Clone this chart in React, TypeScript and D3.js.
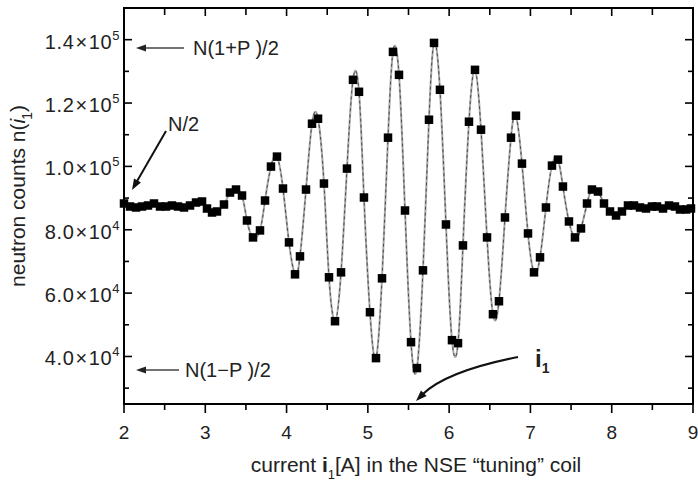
import React from 'react';
import * as d3 from 'd3';

// current i1 [A]
const currents = [
  2.0, 2.074, 2.148, 2.221, 2.295, 2.369, 2.443, 2.517, 2.59, 2.664, 2.738, 2.812, 2.886, 2.96,
  3.021, 3.083, 3.144, 3.23, 3.304, 3.378, 3.452, 3.513, 3.587, 3.673, 3.735, 3.808, 3.882, 3.956,
  4.03, 4.104, 4.165, 4.239, 4.313, 4.387, 4.46, 4.522, 4.596, 4.67, 4.743, 4.817, 4.891, 4.952,
  5.026, 5.1, 5.174, 5.248, 5.309, 5.383, 5.457, 5.531, 5.604, 5.678, 5.752, 5.814, 5.887, 5.961,
  6.035, 6.109, 6.17, 6.244, 6.318, 6.392, 6.466, 6.539, 6.613, 6.687, 6.761, 6.822, 6.896, 6.97,
  7.044, 7.118, 7.191, 7.265, 7.339, 7.4, 7.474, 7.548, 7.622, 7.696, 7.757, 7.831, 7.905, 7.979,
  8.053, 8.126, 8.2, 8.274, 8.348, 8.422, 8.495, 8.557, 8.631, 8.705, 8.778, 8.84, 8.914, 8.975,
];

// neutron counts n(i1)
const counts = [
  88290, 87340, 87030, 87340, 87660, 88290, 87340, 87340, 87660, 87340, 87030, 87660, 88600, 88920,
  86710, 85450, 85770, 87970, 91750, 92700, 90810, 82930, 77580, 79790, 89230, 99940, 103090, 93010,
  76010, 65930, 71600, 92700, 113480, 115050, 94590, 64990, 51130, 66560, 99310, 127330, 123550, 90180,
  53970, 39480, 64670, 109070, 136150, 128900, 86080, 44520, 36340, 67190, 114740, 138980, 124180, 81670,
  45150, 44210, 75060, 114110, 130480, 111590, 77580, 53340, 57430, 83880, 109070, 116000, 100880, 78840,
  66560, 71290, 87030, 100250, 102140, 93640, 82620, 77580, 80420, 88290, 92700, 92070, 88290, 85770,
  84510, 85770, 87660, 87660, 87030, 86710, 87340, 87340, 86710, 87660, 87340, 86400, 86400, 86710,
];

const xTicks = [2, 3, 4, 5, 6, 7, 8, 9];
const xMinorTicks = [2.5, 3.5, 4.5, 5.5, 6.5, 7.5, 8.5];
const yTicks = [40000, 60000, 80000, 100000, 120000, 140000];
const yTickMantissa = ['4.0', '6.0', '8.0', '1.0', '1.2', '1.4'];
const yTickExponent = ['4', '4', '4', '5', '5', '5'];
const yMinorTicks = [30000, 50000, 70000, 90000, 110000, 130000];

const W = 698;
const H = 490;
const L = 124, R = 693, T = 8, B = 404;
const FONT = '"Liberation Sans", Arial, Helvetica, sans-serif';

const x = d3.scaleLinear().domain([2, 9]).range([L, R]);
const y = d3.scaleLinear().domain([25000, 150000]).range([B, T]);

const data = currents.map((c, i) => ({ c, n: counts[i] }));

function arrowHead(tx: number, ty: number, ux: number, uy: number, len: number, half: number) {
  const bx = tx - ux * len;
  const by = ty - uy * len;
  const px = -uy, py = ux;
  return `${tx},${ty} ${bx + px * half},${by + py * half} ${bx - px * half},${by - py * half}`;
}

export default function App() {
  const line = d3
    .line<{ c: number; n: number }>()
    .x((d) => x(d.c))
    .y((d) => y(d.n))
    .curve(d3.curveNatural);
  const path = line(data) || '';
  const sq = 8.5;

  const n2dx = 132 - 166, n2dy = 190 - 131;
  const n2len = Math.hypot(n2dx, n2dy);
  const n2u = [n2dx / n2len, n2dy / n2len];

  return (
    <svg
      width={W}
      height={H}
      style={{ position: 'absolute', left: 0, top: 0, background: '#fff' }}
      fontFamily={FONT}
    >
      <rect x={0} y={0} width={W} height={H} fill="#fff" />

      {/* fitted / connecting curve */}
      <path d={path} fill="none" stroke="#a8a8a8" strokeWidth={2} />
      <path d={path} fill="none" stroke="#333" strokeWidth={0.8} strokeDasharray="3,3" />

      {/* data squares */}
      {data.map((d, i) => (
        <rect key={i} x={x(d.c) - sq / 2} y={y(d.n) - sq / 2} width={sq} height={sq} fill="#000" />
      ))}

      {/* frame */}
      <rect x={L} y={T} width={R - L} height={B - T} fill="none" stroke="#000" strokeWidth={2} />

      {/* x ticks: bottom outward, top inward */}
      {xTicks.map((t) => (
        <g key={'xt' + t}>
          <line x1={x(t)} x2={x(t)} y1={B} y2={B + 9} stroke="#000" strokeWidth={1.6} />
          <line x1={x(t)} x2={x(t)} y1={T} y2={T + 8} stroke="#000" strokeWidth={1.6} />
          <text x={x(t)} y={439} textAnchor="middle" fontSize={19} fill="#222">
            {t}
          </text>
        </g>
      ))}
      {xMinorTicks.map((t) => (
        <g key={'xm' + t}>
          <line x1={x(t)} x2={x(t)} y1={B} y2={B + 6} stroke="#000" strokeWidth={1.6} />
          <line x1={x(t)} x2={x(t)} y1={T} y2={T + 7} stroke="#000" strokeWidth={1.6} />
        </g>
      ))}

      {/* y ticks: inward on both sides */}
      {yTicks.map((t, i) => (
        <g key={'yt' + t}>
          <line x1={L} x2={L + 8} y1={y(t)} y2={y(t)} stroke="#000" strokeWidth={1.6} />
          <line x1={R} x2={R - 8} y1={y(t)} y2={y(t)} stroke="#000" strokeWidth={1.6} />
          <text x={120} y={y(t) + 9} textAnchor="end" fontSize={20} fill="#222" letterSpacing={0.6}>
            {yTickMantissa[i]}
            <tspan dx={1}>×</tspan>
            <tspan dx={1}>10</tspan>
            <tspan fontSize={13} dy={-9}>{yTickExponent[i]}</tspan>
          </text>
        </g>
      ))}
      {yMinorTicks.map((t) => (
        <g key={'ym' + t}>
          <line x1={L} x2={L + 5} y1={y(t)} y2={y(t)} stroke="#000" strokeWidth={1.6} />
          <line x1={R} x2={R - 5} y1={y(t)} y2={y(t)} stroke="#000" strokeWidth={1.6} />
        </g>
      ))}

      {/* axis titles */}
      <text x={416} y={472} textAnchor="middle" fontSize={21} fill="#222">
        current <tspan fontWeight="bold">i</tspan>
        <tspan fontSize={13} dy={7}>1</tspan>
        <tspan dy={-7}>[A] in the NSE “tuning” coil</tspan>
      </text>
      <text transform="translate(25,196) rotate(-90)" textAnchor="middle" fontSize={21} fill="#222">
        neutron counts n(<tspan fontStyle="italic">i</tspan>
        <tspan fontSize={14} dx={-1} dy={7}>1</tspan>
        <tspan dy={-7}>)</tspan>
      </text>

      {/* annotations */}
      <line x1={184} y1={48} x2={145} y2={48} stroke="#444" strokeWidth={1.3} />
      <polygon points={arrowHead(136, 48, -1, 0, 10, 3.5)} fill="#222" />
      <text x={193} y={55} fontSize={20} fill="#222">N(1+P )/2</text>

      <line x1={166} y1={131} x2={132 - n2u[0] * 8} y2={190 - n2u[1] * 8} stroke="#111" strokeWidth={2} />
      <polygon points={arrowHead(132, 190, n2u[0], n2u[1], 11, 4)} fill="#111" />
      <text x={168} y={131} fontSize={20} fill="#222">N/2</text>

      <line x1={179} y1={370} x2={145} y2={370} stroke="#444" strokeWidth={1.3} />
      <polygon points={arrowHead(136, 370, -1, 0, 10, 3.5)} fill="#222" />
      <text x={185} y={377} fontSize={20} fill="#222">N(1−P )/2</text>

      <path d="M518,357 Q447,371 423,394" fill="none" stroke="#111" strokeWidth={2.2} />
      <polygon points={arrowHead(416, 401, -0.707, 0.707, 11, 4)} fill="#111" />
      <text x={535} y={367} fontSize={24} fontWeight="bold" fill="#222">
        i<tspan fontSize={14} dy={6}>1</tspan>
      </text>
    </svg>
  );
}
